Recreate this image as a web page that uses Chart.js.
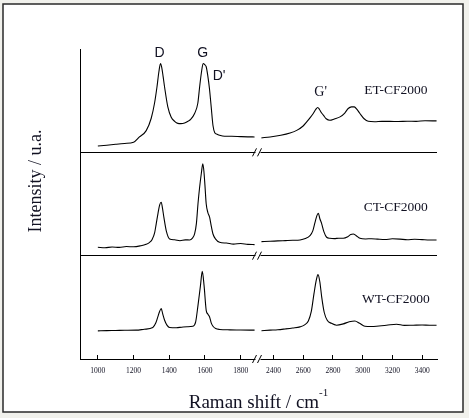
<!DOCTYPE html>
<html>
<head>
<meta charset="utf-8">
<script src="https://cdn.jsdelivr.net/npm/chart.js@4/dist/chart.umd.min.js"></script>
<style>
  html, body { margin: 0; padding: 0; background: #f1f1ec; }
  canvas { display: block; }
</style>
</head>
<body>
<canvas id="raman" width="469" height="418"></canvas>
<script>
// tick labels of the broken x axis
const ticksLow = [1000, 1200, 1400, 1600, 1800];
const ticksHigh = [2400, 2600, 2800, 3000, 3200, 3400];
const samples = ['ET-CF2000', 'CT-CF2000', 'WT-CF2000'];

// ET-CF2000 (top panel), intensity in % of panel height
const shiftET_L = [1000, 1050, 1100, 1150, 1200, 1233, 1271, 1299, 1318, 1331, 1342, 1351, 1358, 1366, 1374, 1392, 1411, 1430, 1448, 1465, 1486, 1505, 1520, 1542, 1560, 1570, 1580, 1590, 1598, 1607, 1616, 1625, 1635, 1645, 1655, 1668, 1682, 1710, 1750, 1800, 1840, 1878];
const intensET_L = [6.1, 6.9, 7.8, 8.6, 9.7, 14.9, 21, 33, 48, 63, 78, 86, 82, 73, 63, 44, 34, 30, 28, 27.8, 28.4, 30, 32, 37.6, 47.5, 63, 77, 86, 85, 82.8, 74, 62, 44, 26, 19, 17.5, 16.5, 15.5, 15.5, 15.2, 15, 14.9];
const shiftET_H = [2320, 2378, 2450, 2512, 2560, 2600, 2624, 2650, 2668, 2685, 2698, 2710, 2722, 2736, 2755, 2780, 2810, 2848, 2880, 2903, 2925, 2944, 2962, 2982, 3010, 3038, 3080, 3130, 3183, 3240, 3300, 3360, 3420, 3497];
const intensET_H = [14, 14.9, 16.5, 18.7, 21.5, 25.5, 29.4, 34, 37.6, 41.5, 43.4, 41.5, 38.5, 36, 32.5, 31, 32.3, 34.3, 38, 42.4, 44, 44, 41.5, 37.6, 32.5, 30, 29.6, 30, 30, 29.8, 30.1, 30, 30.5, 30.4];

// CT-CF2000 (middle panel)
const shiftCT_L = [1000, 1040, 1080, 1120, 1160, 1200, 1240, 1270, 1290, 1305, 1318, 1327, 1337, 1346, 1355, 1362, 1370, 1383, 1402, 1430, 1460, 1490, 1514, 1530, 1542, 1552, 1561, 1570, 1580, 1588, 1594, 1600, 1607, 1616, 1626, 1636, 1645, 1660, 1682, 1720, 1760, 1800, 1840, 1878];
const intensCT_L = [8.1, 7.6, 8.4, 8.0, 8.8, 8.6, 9.6, 11, 12.9, 16, 22, 30.8, 41, 49, 51.7, 46, 37, 24.3, 16.2, 15.4, 14.5, 15.3, 15.2, 17, 21, 31, 50.2, 66, 80, 89, 82, 68, 50.2, 42, 37.2, 28, 21, 16, 12.9, 12.2, 11.2, 11.8, 10.9, 10.7];
const shiftCT_H = [2320, 2378, 2430, 2480, 2530, 2579, 2615, 2646, 2665, 2680, 2692, 2702, 2712, 2725, 2740, 2758, 2780, 2810, 2840, 2870, 2900, 2920, 2937, 2955, 2982, 3020, 3060, 3100, 3150, 3200, 3250, 3300, 3350, 3400, 3450, 3497];
const intensCT_H = [13.6, 13.9, 14.3, 14.6, 14.9, 15.2, 16.5, 19.4, 24, 32.3, 38.5, 41, 36, 30.8, 23, 17.8, 16.8, 16.5, 16.9, 16.8, 18.3, 20.4, 21, 19.5, 16.8, 16.2, 16.4, 16, 15.6, 16.3, 16, 15.4, 15.9, 15.5, 15.1, 15.2];

// WT-CF2000 (bottom panel)
const shiftWT_L = [1000, 1050, 1100, 1150, 1215, 1260, 1308, 1325, 1336, 1346, 1355, 1363, 1374, 1388, 1402, 1440, 1470, 1500, 1532, 1548, 1561, 1575, 1585, 1595, 1607, 1616, 1626, 1635, 1645, 1660, 1682, 1740, 1800, 1878];
const intensWT_L = [27.2, 27.5, 27.6, 27.8, 27.9, 28.8, 30.5, 35, 40.7, 46, 48.8, 44, 37.5, 32.5, 30.5, 30.3, 30.8, 31.2, 31.7, 36, 51.9, 71.2, 84.9, 71.2, 47.1, 43.5, 40.7, 35, 31.7, 29.5, 28.6, 28.2, 28.1, 27.9];
const shiftWT_H = [2320, 2378, 2430, 2480, 2530, 2579, 2610, 2635, 2655, 2673, 2688, 2700, 2712, 2725, 2742, 2762, 2790, 2825, 2870, 2910, 2948, 2980, 3015, 3060, 3110, 3160, 3228, 3280, 3340, 3400, 3450, 3497];
const intensWT_H = [27.4, 27.9, 28.3, 29.1, 30.0, 31.1, 33, 36.8, 46, 63.2, 76, 81.7, 75, 59.9, 45, 37.5, 34.5, 32.7, 34, 36, 36.8, 34.5, 31.7, 31.4, 32, 32.6, 33.7, 32.5, 32.7, 32.9, 32.6, 32.7];

function pts(xs, ys) {
  return xs.map((x, i) => ({ x: x, y: ys[i] }));
}

function spectrum(xs, ys, xAxis, yAxis) {
  return {
    data: pts(xs, ys),
    xAxisID: xAxis,
    yAxisID: yAxis,
    borderColor: '#000',
    borderWidth: 1.1,
    pointRadius: 0,
    cubicInterpolationMode: 'monotone',
    fill: false
  };
}

const serif = '"Liberation Serif", "Times New Roman", serif';
const sans = '"Liberation Sans", Arial, sans-serif';
const textColor = '#111122';

// frame, break marks, labels and axis titles
const decor = {
  id: 'decor',
  beforeDraw(chart) {
    const ctx = chart.ctx;
    ctx.save();
    ctx.fillStyle = '#f1f1ec';
    ctx.fillRect(0, 0, chart.width, chart.height);
    ctx.fillStyle = '#fff';
    ctx.fillRect(3, 4, 460, 408);
    ctx.strokeStyle = '#2a2a2a';
    ctx.lineWidth = 1.5;
    ctx.strokeRect(3, 4, 460, 408);
    ctx.restore();
  },
  afterDraw(chart) {
    const ctx = chart.ctx;
    const s = chart.scales;
    const area = chart.chartArea;
    ctx.save();

    // axis break marks
    const bx = s.xL.right;
    const levels = [s.yTop.bottom, s.yMid.bottom, area.bottom];
    ctx.strokeStyle = '#000';
    ctx.lineWidth = 1;
    levels.forEach((y) => {
      ctx.fillStyle = '#fff';
      ctx.fillRect(bx - 3, y - 1, 5, 2);
      ctx.beginPath();
      ctx.moveTo(bx - 6, y + 4);
      ctx.lineTo(bx - 2, y - 4);
      ctx.moveTo(bx - 1, y + 4);
      ctx.lineTo(bx + 3, y - 4);
      ctx.stroke();
    });

    // peak labels
    ctx.fillStyle = textColor;
    ctx.textBaseline = 'middle';
    ctx.textAlign = 'center';
    ctx.font = '14px ' + sans;
    ctx.fillText('D', s.xL.getPixelForValue(1346), s.yTop.getPixelForValue(96));
    ctx.fillText('G', s.xL.getPixelForValue(1588), s.yTop.getPixelForValue(96));
    ctx.textAlign = 'left';
    ctx.fillText("D'", s.xL.getPixelForValue(1643), s.yTop.getPixelForValue(74));
    ctx.textAlign = 'center';
    ctx.font = '14px ' + serif;
    ctx.fillText("G'", s.xR.getPixelForValue(2718), s.yTop.getPixelForValue(58.5));

    // sample labels
    ctx.font = '13.5px ' + serif;
    ctx.fillText(samples[0], s.xR.getPixelForValue(3223), s.yTop.getPixelForValue(59.5));
    ctx.fillText(samples[1], s.xR.getPixelForValue(3223), s.yMid.getPixelForValue(46.3));
    ctx.fillText(samples[2], s.xR.getPixelForValue(3223), s.yBot.getPixelForValue(57.4));

    // x title with superscript
    ctx.font = '19px ' + serif;
    const main = 'Raman shift / cm';
    const wMain = ctx.measureText(main).width;
    ctx.font = '11px ' + serif;
    const wSup = ctx.measureText('-1').width;
    const x0 = (area.left + area.right) / 2 - (wMain + wSup) / 2;
    ctx.textAlign = 'left';
    ctx.textBaseline = 'alphabetic';
    ctx.font = '19px ' + serif;
    ctx.fillText(main, x0, 408);
    ctx.font = '11px ' + serif;
    ctx.fillText('-1', x0 + wMain, 396);

    // y title
    ctx.translate(36, 181);
    ctx.rotate(-Math.PI / 2);
    ctx.textAlign = 'center';
    ctx.textBaseline = 'middle';
    ctx.font = '18px ' + serif;
    ctx.fillText('Intensity / u.a.', 0, 0);
    ctx.restore();
  }
};

function panelAxis(divider) {
  return {
    type: 'linear',
    position: 'left',
    stack: 'panels',
    stackWeight: 1,
    min: 0,
    max: 100,
    afterBuildTicks: (axis) => { axis.ticks = [{ value: 0 }]; },
    ticks: { display: false },
    grid: { display: divider, color: '#000', lineWidth: 1, drawTicks: false },
    border: { display: true, color: '#000', width: 1 }
  };
}

function shiftAxis(min, max, tickVals) {
  return {
    type: 'linear',
    position: 'bottom',
    stack: 'shift',
    stackWeight: 1,
    min: min,
    max: max,
    afterBuildTicks: (axis) => { axis.ticks = tickVals.map((v) => ({ value: v })); },
    ticks: {
      color: textColor,
      padding: 12,
      maxRotation: 0,
      autoSkip: false,
      font: { family: serif, size: 7.5 },
      callback: (v) => String(v)
    },
    grid: { drawOnChartArea: false, drawTicks: true, tickLength: -4, color: '#000' },
    border: { display: true, color: '#000', width: 1 }
  };
}

new Chart(document.getElementById('raman'), {
  type: 'line',
  data: {
    datasets: [
      spectrum(shiftET_L, intensET_L, 'xL', 'yTop'),
      spectrum(shiftET_H, intensET_H, 'xR', 'yTop'),
      spectrum(shiftCT_L, intensCT_L, 'xL', 'yMid'),
      spectrum(shiftCT_H, intensCT_H, 'xR', 'yMid'),
      spectrum(shiftWT_L, intensWT_L, 'xL', 'yBot'),
      spectrum(shiftWT_H, intensWT_H, 'xR', 'yBot')
    ]
  },
  options: {
    responsive: false,
    animation: false,
    devicePixelRatio: 1,
    layout: { padding: { left: 80, right: 32, top: 49, bottom: 30 } },
    plugins: {
      legend: { display: false },
      tooltip: { enabled: false }
    },
    scales: {
      xL: shiftAxis(900, 1900, ticksLow),
      xR: shiftAxis(2300, 3500, ticksHigh),
      // stacked left axes are placed from the last one declared, so bottom panel first
      yBot: panelAxis(false),
      yMid: panelAxis(true),
      yTop: panelAxis(true)
    }
  },
  plugins: [decor]
});
</script>
</body>
</html>
